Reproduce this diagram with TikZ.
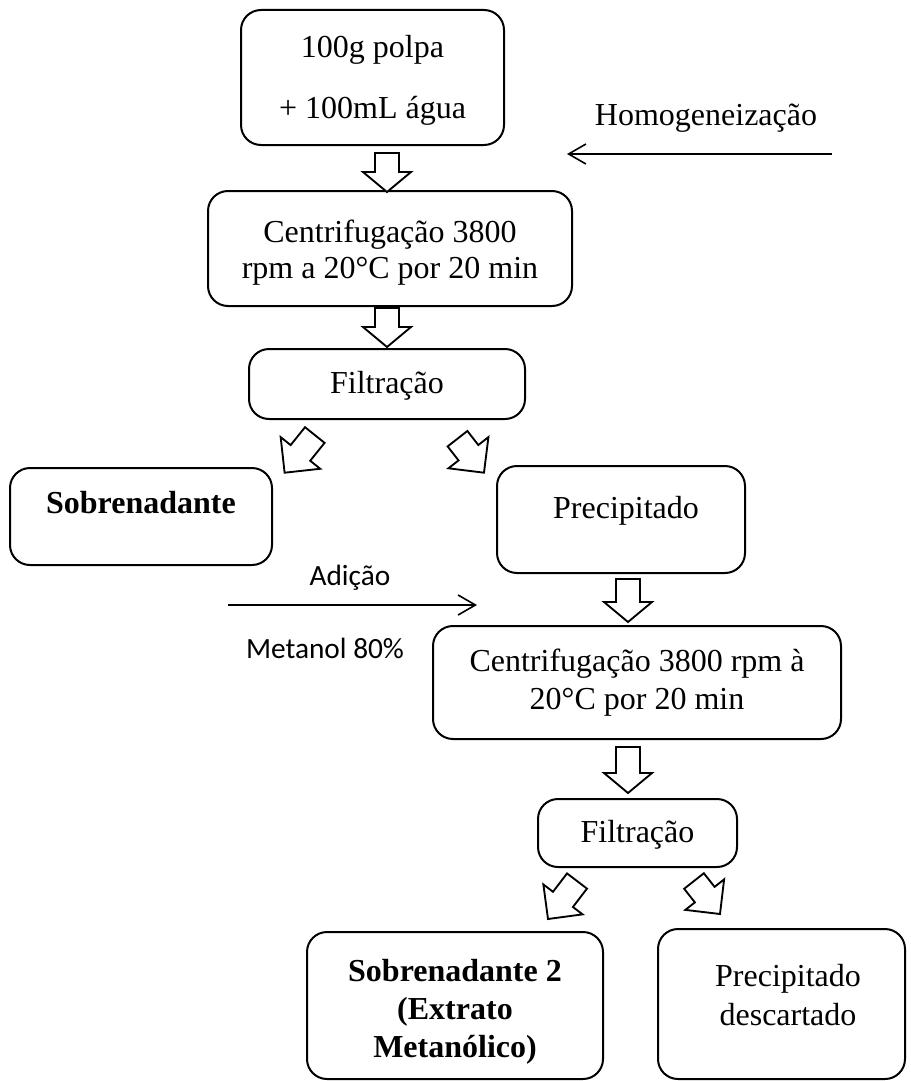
\documentclass[tikz,border=0pt]{standalone}
\usepackage{fontspec}
\setmainfont{Liberation Serif}
\newfontfamily\calib{Carlito}
\usetikzlibrary{calc,arrows.meta}
\tikzset{
  box/.style={draw, line width=1.5pt, rounded corners=15pt, inner sep=0pt},
  txt/.style={inner sep=0pt, align=center},
  blk/.style={draw, line width=1.4pt, line join=miter, fill=white},
  thin/.style={line width=1.2pt, -{Straight Barb[length=13pt,width=15pt,line width=1.2pt]}},
}
\newcommand\barrow[5]{%
  \coordinate (bm) at ($(#2)!#3!(#1)$);
  \draw[blk] ($(#1)!#4!90:(#2)$) -- ($(bm)!#4!90:(#2)$) -- ($(bm)!#5!90:(#2)$) -- (#2)
    -- ($(bm)!#5!-90:(#2)$) -- ($(bm)!#4!-90:(#2)$) -- ($(#1)!#4!-90:(#2)$) -- cycle;}
\begin{document}
\begin{tikzpicture}[x=0.75pt,y=-0.75pt]
\useasboundingbox (0,0) rectangle (910,1081);
% boxes
\node[box, minimum width=197.25pt, minimum height=101.25pt] (b1) at (372.5,77.5) {};
\node[box, minimum width=273pt, minimum height=86.25pt] (b2) at (390,248.5) {};
\node[box, minimum width=207pt, minimum height=52.5pt] (b3) at (387,384) {};
\node[box, minimum width=196.5pt, minimum height=72.75pt] (b4) at (141,516.5) {};
\node[box, minimum width=186pt, minimum height=80.25pt] (b5) at (621,519.5) {};
\node[box, minimum width=306pt, minimum height=84.75pt] (b6) at (637,682.5) {};
\node[box, minimum width=149.25pt, minimum height=51pt] (b7) at (637.5,833) {};
\node[box, minimum width=222pt, minimum height=110.25pt] (b8) at (455,1005.5) {};
\node[box, minimum width=185.25pt, minimum height=112.5pt] (b9) at (781.5,1004) {};
% texts
\node[txt, font=\fontsize{24}{45.75}\selectfont] (t1) at (372.5,80) {100g polpa\\+ 100mL água};
\node[txt, font=\fontsize{24}{27}\selectfont] (t2) at (390,253) {Centrifugação 3800\\rpm a 20°C por 20 min};
\node[txt, font=\fontsize{24}{28}\selectfont, anchor=base] (t3) at (387,393) {Filtração};
\node[txt, font=\fontsize{24}{28}\selectfont\bfseries, anchor=base] (t4) at (141,513) {Sobrenadante};
\node[txt, font=\fontsize{24}{28}\selectfont, anchor=base] (t5) at (626,518) {Precipitado};
\node[txt, font=\fontsize{24}{28.5}\selectfont] (t6) at (637,683) {Centrifugação 3800 rpm à\\20°C por 20 min};
\node[txt, font=\fontsize{24}{28}\selectfont, anchor=base] (t7) at (637.5,842) {Filtração};
\node[txt, font=\fontsize{24}{28.5}\selectfont\bfseries] (t8) at (455,1012) {Sobrenadante 2\\(Extrato\\Metanólico)};
\node[txt, font=\fontsize{24}{29}\selectfont] (t9) at (788,995) {Precipitado\\descartado};
\node[txt, font=\fontsize{24}{28}\selectfont, anchor=base] (hom) at (706,125) {Homogeneização};
\node[txt, font=\calib\fontsize{22}{26}\selectfont, anchor=base] (adi) at (350,585) {Adição};
\node[txt, font=\calib\fontsize{22}{26}\selectfont, anchor=base] (met) at (325,658) {Metanol 80\%};
% thin arrows
\coordinate (h1) at (832,154);
\coordinate (h2) at (567,154);
\draw[thin] (h1) -- (h2);
\coordinate (m1) at (228,605);
\coordinate (m2) at (477,605);
\draw[thin] (m1) -- (m2);
% block arrows
\coordinate (a1s) at (387,153); \coordinate (a1e) at (387,192);
\coordinate (a2s) at (387,308); \coordinate (a2e) at (387,347);
\coordinate (a3s) at (628,579); \coordinate (a3e) at (628,622);
\coordinate (a4s) at (628,747); \coordinate (a4e) at (628,793);
\coordinate (d1s) at (314.8,435); \coordinate (d1e) at (284.6,472.7);
\coordinate (d2s) at (457.5,438.7); \coordinate (d2e) at (484,472.7);
\coordinate (d3s) at (577,881); \coordinate (d3e) at (548,919);
\coordinate (d4s) at (694,881); \coordinate (d4e) at (720,914);
\barrow{a1s}{a1e}{15pt}{9pt}{18pt}
\barrow{a2s}{a2e}{15pt}{9pt}{18pt}
\barrow{a3s}{a3e}{15pt}{9pt}{18pt}
\barrow{a4s}{a4e}{15pt}{9pt}{18pt}
\barrow{d1s}{d1e}{19pt}{9.4pt}{19pt}
\barrow{d2s}{d2e}{19pt}{9.4pt}{19pt}
\barrow{d3s}{d3e}{18.5pt}{9.4pt}{18.5pt}
\barrow{d4s}{d4e}{18.5pt}{9.4pt}{18.5pt}
\end{tikzpicture}
\end{document}
